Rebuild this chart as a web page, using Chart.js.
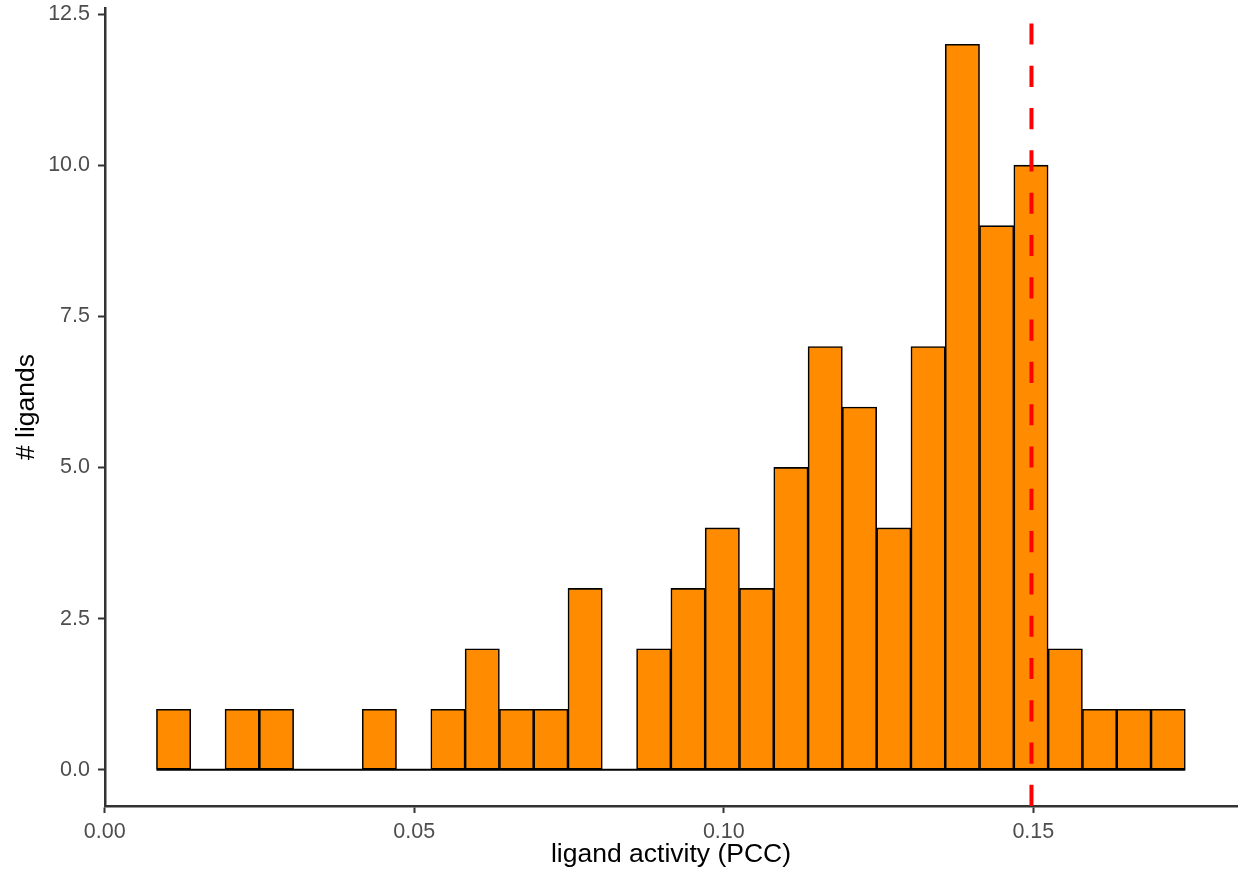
<!DOCTYPE html>
<html>
<head>
<meta charset="utf-8">
<script src="https://cdn.jsdelivr.net/npm/chart.js@4/dist/chart.umd.min.js"></script>
<style>
html,body{margin:0;padding:0;background:#fff;}
#wrap{width:1238px;height:873px;}
</style>
</head>
<body>
<div id="wrap"><canvas id="c" width="1238" height="873"></canvas></div>
<script>
// histogram bin centres (ligand activity, PCC)
const binCenters = [0.01112,0.01666,0.02220,0.02774,0.03328,0.03882,0.04436,0.04990,0.05544,0.06098,
  0.06652,0.07206,0.07760,0.08314,0.08868,0.09422,0.09976,0.10530,0.11084,0.11638,
  0.12192,0.12746,0.13300,0.13854,0.14408,0.14962,0.15516,0.16070,0.16624,0.17178];
// number of ligands per bin
const counts = [1,0,1,1,0,0,1,0,1,2,1,1,3,0,2,3,4,3,5,7,6,4,7,12,9,10,2,1,1,1];
// histogram range (outer bin edges)
const binRange = [0.00835, 0.17455];
// dashed threshold line
const threshold = 0.1497;
// tick labels
const xTicks = [0.00, 0.05, 0.10, 0.15];
const yTicks = [0.0, 2.5, 5.0, 7.5, 10.0, 12.5];
const xLimits = [0.00004, 0.1829];
const yLimits = [-0.6, 12.6];

const FONT = "'Liberation Sans', Arial, Helvetica, sans-serif";

const barData = binCenters.map((x, i) => ({x: x, y: counts[i]}));

new Chart(document.getElementById('c'), {
  type: 'bar',
  data: {
    datasets: [
      {
        type: 'line',
        data: [{x: binRange[0], y: 0}, {x: binRange[1], y: 0}],
        borderColor: '#000',
        borderWidth: 2,
        pointRadius: 0,
        order: 3
      },
      {
        type: 'bar',
        data: barData,
        backgroundColor: '#FF8C00',
        borderColor: '#000',
        borderWidth: 1.6,
        borderSkipped: false,
        barPercentage: 1.0,
        categoryPercentage: 1.0,
        order: 2
      },
      {
        type: 'line',
        data: [{x: threshold, y: yLimits[0]}, {x: threshold, y: yLimits[1]}],
        borderColor: '#FF0000',
        borderWidth: 4,
        borderDash: [21.15, 21.15],
        pointRadius: 0,
        order: 1
      }
    ]
  },
  options: {
    responsive: false,
    animation: false,
    events: [],
    layout: {padding: {top: 8, right: 1, left: 0, bottom: 0}},
    plugins: {legend: {display: false}, tooltip: {enabled: false}},
    scales: {
      x: {
        type: 'linear',
        min: xLimits[0],
        max: xLimits[1],
        offset: false,
        afterBuildTicks: s => { s.ticks = xTicks.map(v => ({value: v})); },
        afterFit: s => { s.height = 67; s.paddingLeft = 0; s.paddingRight = 0; },
        grid: {display: true, offset: false, drawOnChartArea: false, drawTicks: true, tickLength: 7, color: '#333', tickWidth: 2},
        border: {display: true, color: '#333', width: 2.5},
        ticks: {
          color: '#4D4D4D',
          font: {family: FONT, size: 21.5},
          padding: 6,
          maxRotation: 0,
          autoSkip: false,
          callback: v => Number(v).toFixed(2)
        },
        title: {
          display: true,
          text: 'ligand activity (PCC)',
          color: '#000',
          font: {family: FONT, size: 26.5},
          padding: {top: 0, bottom: 2.3}
        }
      },
      y: {
        type: 'linear',
        min: yLimits[0],
        max: yLimits[1],
        afterBuildTicks: s => { s.ticks = yTicks.map(v => ({value: v})); },
        afterFit: s => { s.width = 105; s.paddingTop = 0; s.paddingBottom = 0; },
        grid: {display: true, drawOnChartArea: false, drawTicks: true, tickLength: 7, color: '#333', tickWidth: 2},
        border: {display: true, color: '#333', width: 2.5},
        ticks: {
          color: '#4D4D4D',
          font: {family: FONT, size: 21.5},
          padding: 8,
          autoSkip: false,
          callback: v => Number(v).toFixed(1)
        },
        title: {
          display: true,
          text: '# ligands',
          color: '#000',
          font: {family: FONT, size: 26.5},
          padding: {top: 10.6, bottom: 0}
        }
      }
    }
  }
});
</script>
</body>
</html>
